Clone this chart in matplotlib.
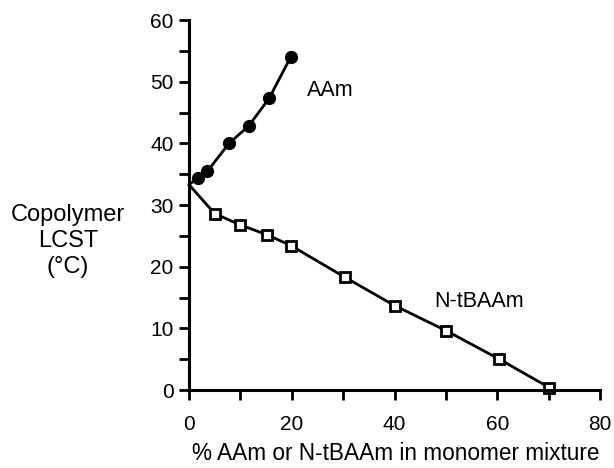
import matplotlib
matplotlib.use("Agg")
import matplotlib.pyplot as plt
from matplotlib.ticker import MultipleLocator

plt.rcParams['font.family'] = ['Liberation Sans', 'DejaVu Sans']

aam_x = [0, 1.8, 3.6, 7.8, 11.6, 15.6, 19.8]
aam_y = [33.3, 34.4, 35.5, 40.0, 42.8, 47.3, 54.0]
tb_x = [0, 5.0, 9.9, 15.1, 19.9, 30.3, 40.0, 50.1, 60.4, 70.1]
tb_y = [33.3, 28.6, 26.8, 25.2, 23.4, 18.3, 13.7, 9.6, 5.0, 0.4]
x_ticks = [0, 20, 40, 60, 80]
y_ticks = [0, 10, 20, 30, 40, 50, 60]

fig = plt.figure(figsize=(6.14, 4.68), dpi=100)
ax = fig.add_axes([189/614, 1 - 390/468, 411/614, 370/468])

ax.plot(aam_x, aam_y, color='black', lw=2)
ax.plot(aam_x[1:], aam_y[1:], 'o', color='black', ms=8.5, clip_on=False)
ax.plot(tb_x, tb_y, color='black', lw=2, clip_on=False)
ax.plot(tb_x[1:], tb_y[1:], 's', mfc='white', mec='black', mew=2, ms=7, clip_on=False)

ax.set_xlim(0, 80)
ax.set_ylim(0, 60)
ax.set_xticks(x_ticks)
ax.set_yticks(y_ticks)
ax.xaxis.set_minor_locator(MultipleLocator(10))
ax.yaxis.set_minor_locator(MultipleLocator(5))
for s in ['top', 'right']:
    ax.spines[s].set_visible(False)
for s in ['left', 'bottom']:
    ax.spines[s].set_linewidth(2.2)
ax.tick_params(which='both', direction='out', length=7, width=2)
ax.tick_params(axis='y', labelsize=15, pad=4)
ax.tick_params(axis='x', labelsize=15, pad=11)

ax.text(23.0, 47.6, 'AAm', fontsize=15.5, va='baseline')
ax.text(47.7, 13.5, 'N-tBAAm', fontsize=15.5, va='baseline')
fig.text(68/614, 1 - 241/468, 'Copolymer\nLCST\n(°C)', fontsize=17,
         ha='center', va='center', linespacing=1.23)
fig.text(396/614, 1 - 460/468, '% AAm or N-tBAAm in monomer mixture',
         fontsize=16.3, ha='center', va='baseline')

fig.savefig('out.png', dpi=100)
